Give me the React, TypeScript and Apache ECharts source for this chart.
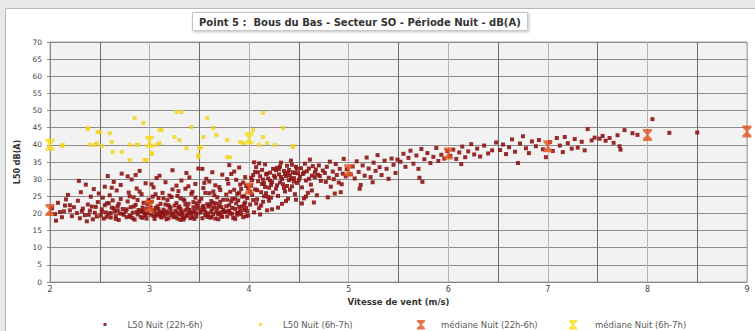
import React, { useEffect, useRef } from "react";
import * as echarts from "echarts";

// L50 nuit (22h-6h) : [vitesse de vent m/s, L50 dB(A)]
const nightPoints: number[][] = [
  [2.02,21.5],[2.05,19.8],[2.08,23.1],[2.1,20.4],[2.12,18.9],[2.15,22.3],[2.18,25.4],[2.2,20.9],[2.22,19.2],[2.24,21.8],[2.06,17.9],[2.16,24.1],
  [2.27,20.1],[2.28,23.7],[2.3,18.6],[2.31,26.2],[2.33,21.4],[2.35,19.5],[2.36,28.4],[2.38,22.6],[2.4,20.8],[2.41,24.9],[2.43,18.3],[2.44,27.1],[2.46,21.9],[2.47,19.1],[2.48,23.3],[2.49,25.8],[2.29,29.5],[2.37,17.7],[2.42,22.0],
  [2.51,19.4],[2.52,21.2],[2.53,24.6],[2.54,18.5],[2.55,27.8],[2.56,20.3],[2.57,22.9],[2.58,30.9],[2.59,19.9],[2.6,25.3],[2.61,18.8],[2.62,21.7],[2.63,23.8],[2.64,29.2],[2.65,20.6],[2.66,19.2],[2.67,26.7],[2.68,22.1],[2.69,18.1],[2.7,20.0],[2.71,24.2],[2.72,31.6],[2.73,21.3],[2.74,19.6],[2.55,22.4],[2.62,27.5],[2.68,20.9],[2.71,28.3],[2.59,23.0],[2.66,18.4],
  [2.76,20.7],[2.77,18.9],[2.78,23.5],[2.79,26.1],[2.8,19.3],[2.81,21.8],[2.82,29.9],[2.83,20.2],[2.84,24.7],[2.85,18.2],[2.86,22.5],[2.87,27.3],[2.88,19.7],[2.89,21.0],[2.9,32.4],[2.91,20.5],[2.92,25.6],[2.93,18.7],[2.94,23.1],[2.95,19.9],[2.96,28.8],[2.97,21.4],[2.98,20.1],[2.99,24.0],[2.78,30.8],[2.81,19.0],[2.84,22.0],[2.87,20.4],[2.9,26.4],[2.93,21.7],[2.96,19.4],[2.8,25.0],[2.86,31.2],[2.92,20.8],[2.98,22.7],
  [3.01,19.6],[3.02,23.4],[3.03,20.9],[3.04,27.6],[3.05,18.4],[3.06,21.6],[3.07,30.3],[3.08,19.8],[3.09,24.5],[3.1,20.3],[3.11,22.8],[3.12,18.8],[3.13,26.0],[3.14,21.1],[3.15,19.2],[3.16,29.1],[3.17,20.6],[3.18,23.9],[3.19,18.6],[3.2,25.2],[3.21,21.5],[3.22,19.5],[3.23,32.6],[3.24,20.0],[3.02,28.5],[3.05,20.7],[3.08,22.1],[3.11,19.1],[3.14,24.4],[3.17,18.3],[3.2,21.9],[3.23,27.0],[3.04,19.3],[3.1,31.0],[3.13,20.4],[3.19,22.4],[3.22,24.8],[3.06,25.6],[3.15,20.2],[3.24,18.9],
  [3.26,20.8],[3.27,23.0],[3.28,18.5],[3.29,26.5],[3.3,19.7],[3.31,21.3],[3.32,29.6],[3.33,20.1],[3.34,24.1],[3.35,18.7],[3.36,22.6],[3.37,31.8],[3.38,19.4],[3.39,27.9],[3.4,21.0],[3.41,20.4],[3.42,25.7],[3.43,18.9],[3.44,23.3],[3.45,20.7],[3.46,28.6],[3.47,19.1],[3.48,22.2],[3.49,33.1],[3.26,19.0],[3.28,25.1],[3.3,22.0],[3.32,20.6],[3.34,18.2],[3.36,27.2],[3.38,21.6],[3.4,30.5],[3.42,19.9],[3.44,20.3],[3.46,24.6],[3.48,21.4],[3.27,28.1],[3.31,18.1],[3.35,23.7],[3.39,20.0],[3.43,26.3],[3.47,22.9],[3.29,21.7],[3.37,19.3],[3.45,18.4],
  [3.51,20.2],[3.52,24.3],[3.53,18.6],[3.54,27.4],[3.55,21.2],[3.56,19.5],[3.57,30.1],[3.58,22.7],[3.59,20.0],[3.6,25.9],[3.61,18.8],[3.62,23.6],[3.63,32.0],[3.64,19.8],[3.65,21.8],[3.66,28.2],[3.67,20.5],[3.68,24.7],[3.69,18.3],[3.7,22.3],[3.71,26.8],[3.72,19.2],[3.73,31.3],[3.74,21.1],[3.52,20.9],[3.54,22.2],[3.56,26.0],[3.58,19.0],[3.6,29.3],[3.62,20.6],[3.64,23.1],[3.66,18.5],[3.68,21.5],[3.7,27.7],[3.72,20.3],[3.74,24.0],[3.53,33.0],[3.57,19.6],[3.61,22.5],[3.65,25.3],[3.69,20.1],[3.73,19.0],[3.55,28.9],[3.63,21.4],[3.71,23.4],
  [3.76,20.4],[3.77,25.5],[3.78,19.1],[3.79,28.7],[3.8,22.4],[3.81,20.0],[3.82,31.5],[3.83,24.2],[3.84,18.7],[3.85,26.9],[3.86,21.3],[3.87,29.8],[3.88,19.6],[3.89,23.8],[3.9,33.4],[3.91,20.8],[3.92,27.1],[3.93,22.0],[3.94,18.9],[3.95,25.0],[3.96,30.6],[3.97,21.6],[3.98,24.5],[3.99,19.4],[3.77,22.1],[3.79,20.6],[3.81,26.3],[3.83,19.9],[3.85,32.2],[3.87,22.9],[3.89,20.2],[3.91,28.4],[3.93,24.9],[3.95,21.0],[3.97,19.2],[3.99,27.3],[3.78,30.0],[3.82,23.5],[3.86,18.4],[3.9,21.9],[3.94,29.0],[3.98,20.7],[3.8,34.1],[3.88,25.7],[3.96,23.2],
  [4.01,22.6],[4.02,28.1],[4.03,25.4],[4.04,31.2],[4.05,20.3],[4.06,27.0],[4.07,33.5],[4.08,24.1],[4.09,29.4],[4.1,21.5],[4.11,30.8],[4.12,26.2],[4.13,32.7],[4.14,23.4],[4.15,28.8],[4.16,34.3],[4.17,25.9],[4.18,20.9],[4.19,30.2],[4.2,27.5],[4.21,31.9],[4.22,24.6],[4.23,29.1],[4.24,33.0],[4.02,30.4],[4.04,23.9],[4.06,32.1],[4.08,26.8],[4.1,34.6],[4.12,22.3],[4.14,29.9],[4.16,27.7],[4.18,31.6],[4.2,23.7],[4.22,28.3],[4.24,26.1],[4.05,34.9],[4.11,19.7],[4.19,24.8],[4.23,21.2],
  [4.26,30.5],[4.27,27.2],[4.28,33.3],[4.29,25.1],[4.3,31.4],[4.31,29.0],[4.32,34.8],[4.33,22.8],[4.34,28.5],[4.35,32.4],[4.36,26.4],[4.37,30.9],[4.38,33.9],[4.39,24.3],[4.4,29.7],[4.41,31.1],[4.42,35.4],[4.43,27.9],[4.44,32.0],[4.45,30.3],[4.46,25.6],[4.47,33.6],[4.48,28.9],[4.49,31.7],[4.27,32.6],[4.29,21.7],[4.31,33.7],[4.33,30.0],[4.35,27.4],[4.37,23.6],[4.39,31.9],[4.41,26.9],[4.43,34.2],[4.45,29.3],[4.47,24.0],
  [4.51,30.7],[4.52,33.2],[4.53,27.6],[4.54,31.5],[4.55,24.4],[4.56,34.5],[4.57,29.6],[4.58,32.3],[4.59,26.0],[4.6,30.1],[4.61,35.7],[4.62,28.4],[4.63,31.0],[4.64,33.8],[4.65,23.2],[4.66,30.6],[4.67,32.8],[4.68,25.3],[4.69,31.3],[4.7,34.0],[4.72,29.5],[4.74,32.5],[4.53,22.9],[4.57,24.9],[4.63,26.7],
  [4.76,31.8],[4.77,29.2],[4.78,33.6],[4.8,30.4],[4.81,35.1],[4.82,27.8],[4.84,32.2],[4.85,30.0],[4.87,34.4],[4.88,31.2],[4.9,29.0],[4.91,33.0],[4.92,26.2],[4.94,31.6],[4.95,35.9],[4.97,30.8],[4.98,32.9],[4.79,24.7],[4.86,25.8],[4.93,28.5],
  [5.02,31.4],[5.04,33.7],[5.06,30.2],[5.08,35.2],[5.1,32.1],[5.12,28.3],[5.14,34.0],[5.16,31.0],[5.18,36.3],[5.2,33.1],[5.22,30.6],[5.25,34.8],[5.27,32.4],[5.29,37.0],[5.31,33.5],[5.33,31.2],[5.36,35.4],[5.38,33.0],[5.4,30.1],[5.43,36.0],[5.45,34.2],[5.47,31.8],[5.49,35.7],[5.11,27.2],[5.24,29.1],
  [5.52,35.1],[5.55,37.4],[5.57,33.6],[5.6,36.2],[5.62,38.3],[5.65,34.5],[5.68,36.9],[5.7,33.0],[5.73,38.8],[5.76,35.8],[5.79,37.6],[5.82,34.7],[5.85,36.5],[5.88,39.1],[5.9,35.3],[5.93,37.1],[5.96,36.0],[5.99,38.2],[5.74,29.2],[5.71,30.4],
  [6.02,36.8],[6.05,38.6],[6.08,35.9],[6.11,37.8],[6.14,39.5],[6.17,36.4],[6.2,38.1],[6.23,40.2],[6.26,37.2],[6.29,38.9],[6.32,36.6],[6.36,39.8],[6.4,37.5],[6.44,38.4],[6.48,40.7],[6.13,34.4],
  [6.52,38.5],[6.55,40.1],[6.58,37.3],[6.61,39.3],[6.64,41.6],[6.67,38.0],[6.7,34.7],[6.72,40.4],[6.75,42.5],[6.78,39.0],[6.81,37.6],[6.84,41.0],[6.88,39.6],[6.91,41.4],[6.95,38.7],[6.98,36.4],
  [7.02,40.8],[7.05,38.2],[7.09,42.0],[7.12,39.8],[7.15,37.9],[7.17,42.3],[7.2,40.5],[7.24,38.9],[7.27,41.7],[7.3,39.2],[7.34,40.9],[7.37,38.4],[7.4,44.6],[7.44,41.3],[7.47,42.1],
  [7.52,41.8],[7.55,42.6],[7.58,41.2],[7.62,42.0],[7.66,40.6],[7.7,42.8],[7.72,39.6],[7.73,38.6],[7.77,44.3],[7.85,43.4],[7.9,42.9],
  [8.05,47.5],[8.22,43.5],[8.5,43.6],
  // relevés supplémentaires dans le nuage dense
  [2.52,20.5],[2.57,19.0],[2.61,20.1],[2.64,21.5],[2.69,22.8],[2.73,19.9],[2.77,21.2],[2.83,18.6],[2.88,23.9],[2.91,19.0],[2.94,20.6],[2.97,18.5],
  [3.01,21.8],[3.03,24.9],[3.07,19.4],[3.09,21.2],[3.12,20.0],[3.16,22.6],[3.18,19.9],[3.21,20.5],[3.25,22.3],[3.28,20.2],[3.31,24.4],[3.33,19.2],
  [3.36,20.9],[3.39,22.8],[3.41,18.6],[3.44,21.8],[3.47,20.0],[3.5,23.5],[3.53,21.7],[3.56,20.4],[3.59,22.0],[3.62,18.9],[3.64,26.4],[3.67,22.9],
  [3.69,19.7],[3.72,21.9],[3.75,20.6],[3.78,24.0],[3.8,20.8],[3.83,21.6],[3.86,24.3],[3.88,20.1],[3.9,26.0],[3.92,19.8],[3.95,22.7],[3.97,28.0],
  [4.01,26.4],[4.03,29.7],[4.07,22.9],[4.09,32.0],[4.13,28.6],[4.15,25.0],[4.17,31.4],[4.21,29.6],[4.25,31.0],[4.28,28.2],[4.3,32.9],[4.32,30.6],
  [4.36,31.5],[4.38,28.0],[4.4,32.7],[4.42,30.1],[4.46,31.8],[4.48,33.0],[4.5,29.8],[4.55,32.0],[4.6,33.1],[4.66,31.9],[4.71,30.9],
  [2.2,22.4],[2.32,20.7],[2.45,20.2],[2.14,20.6],[2.39,19.6],
];

// L50 nuit (6h-7h)
const morningPoints: number[][] = [
  [2.12,39.7],[2.13,40.0],[2.38,44.9],[2.38,44.6],[2.4,40.0],[2.45,40.0],[2.47,40.5],[2.48,43.7],[2.5,43.7],[2.52,39.7],
  [2.6,43.4],[2.62,40.8],[2.63,37.9],[2.72,37.9],[2.8,35.6],[2.8,40.0],[2.85,47.8],[2.87,40.0],[2.88,40.0],[2.94,46.4],
  [2.95,35.6],[2.97,35.6],[3.02,37.6],[3.02,37.3],[3.07,40.0],[3.1,40.5],[3.1,44.3],[3.12,44.3],[3.25,42.3],[3.27,49.6],
  [3.3,41.4],[3.32,49.6],[3.37,39.0],[3.42,45.2],[3.49,37.0],[3.49,36.4],[3.5,39.0],[3.52,39.4],[3.54,42.3],[3.58,47.8],
  [3.64,44.9],[3.67,42.9],[3.78,41.4],[3.78,36.4],[3.81,36.4],[3.91,40.8],[3.94,40.5],[4.04,44.3],[4.1,40.0],[4.14,49.3],
  [4.14,42.3],[4.18,40.5],[4.26,40.0],[4.34,44.9],[4.44,39.4],[4.44,39.7],
];

// Médianes par classe de vitesse
const medianNight: number[][] = [
  [2, 21.0], [3, 22.2], [4, 27.3], [5, 32.6], [6, 37.5], [7, 39.6], [8, 42.9], [9, 43.9],
];
const medianMorning: number[][] = [
  [2, 40.0], [3, 40.9], [4, 41.9],
];

const xTickValues = [2, 3, 4, 5, 6, 7, 8, 9];

const TITLE = "Point 5 :  Bous du Bas - Secteur SO - Période Nuit - dB(A)";
const S_NIGHT = "L50 Nuit (22h-6h)";
const S_MORNING = "L50 Nuit (6h-7h)";
const M_NIGHT = "médiane Nuit (22h-6h)";
const M_MORNING = "médiane Nuit (6h-7h)";

const HOURGLASS = "path://M0,0H10V2.2L6.4,5.3V6.7L10,9.8V12H0V9.8L3.6,6.7V5.3L0,2.2Z";

const FONT = "DejaVu Sans";

export default function App() {
  const ref = useRef<HTMLDivElement>(null);

  useEffect(() => {
    if (!ref.current) return;
    const chart = echarts.init(ref.current, undefined, { renderer: "svg" });

    const legendBase = {
      orient: "horizontal",
      top: 315,
      textStyle: { fontFamily: FONT, fontSize: 8.5, color: "#5a5a5a" },
      selectedMode: false,
    };

    chart.setOption({
      animation: false,
      backgroundColor: "#e9e9e9",
      graphic: [
        {
          type: "rect",
          shape: { x: 5.5, y: 8.5, width: 760, height: 330 },
          style: { fill: "#ffffff", stroke: "#b8b8b8", lineWidth: 1 },
          z: -10,
        },
      ],
      title: {
        text: TITLE,
        left: 192,
        top: 12,
        padding: [5, 7, 4, 7],
        backgroundColor: "#ffffff",
        borderColor: "#c8c8c8",
        borderWidth: 1,
        shadowColor: "rgba(0,0,0,0.25)",
        shadowBlur: 3,
        shadowOffsetX: 1,
        shadowOffsetY: 1,
        textStyle: { fontFamily: FONT, fontSize: 10, fontWeight: "bold", color: "#333" },
      },
      legend: [
        { ...legendBase, left: 98.5, data: [S_NIGHT], itemWidth: 3, itemHeight: 3, textStyle: { ...legendBase.textStyle, padding: [0, 0, 0, 16] } },
        { ...legendBase, left: 254, data: [S_MORNING], itemWidth: 3, itemHeight: 3, textStyle: { ...legendBase.textStyle, padding: [0, 0, 0, 16] } },
        { ...legendBase, left: 412, data: [M_NIGHT], itemWidth: 8, itemHeight: 11, textStyle: { ...legendBase.textStyle, padding: [0, 0, 0, 11] } },
        { ...legendBase, left: 564, data: [M_MORNING], itemWidth: 8, itemHeight: 11, textStyle: { ...legendBase.textStyle, padding: [0, 0, 0, 13] } },
      ],
      grid: {
        left: 50,
        right: 8,
        top: 42,
        bottom: 49,
        show: true,
        backgroundColor: "#f2f2f2",
        borderColor: "#a8a8a8",
        borderWidth: 1,
      },
      xAxis: {
        type: "value",
        min: 2,
        max: 9,
        interval: 0.5,
        name: "Vitesse de vent (m/s)",
        nameLocation: "middle",
        nameGap: 14,
        nameTextStyle: { fontFamily: FONT, fontSize: 8.5, fontWeight: "bold", color: "#333" },
        axisLine: { show: true, lineStyle: { color: "#888" } },
        axisTick: { show: false },
        axisLabel: {
          fontFamily: FONT,
          fontSize: 8,
          color: "#444",
          margin: 3,
          formatter: (v: number) => (xTickValues.includes(v) ? String(v) : ""),
        },
        splitLine: { show: true, lineStyle: { color: ["#b4b4b4", "#6e6e6e"], width: 1 } },
      },
      yAxis: {
        type: "value",
        min: 0,
        max: 70,
        interval: 5,
        name: "L50 dB(A)",
        nameLocation: "middle",
        nameGap: 27,
        nameRotate: 90,
        nameTextStyle: { fontFamily: FONT, fontSize: 8, fontWeight: "bold", color: "#333" },
        axisLine: { show: true, lineStyle: { color: "#888" } },
        axisTick: { show: true, length: 3, lineStyle: { color: "#888" } },
        axisLabel: { fontFamily: FONT, fontSize: 7.5, color: "#444", margin: 8 },
        splitLine: { show: true, lineStyle: { color: "#8c8c8c", width: 1 } },
      },
      series: [
        {
          name: S_MORNING,
          type: "scatter",
          data: morningPoints,
          symbol: "rect",
          symbolSize: 4,
          itemStyle: { color: "#f3d313" },
          z: 2,
        },
        {
          name: S_NIGHT,
          type: "scatter",
          data: nightPoints,
          symbol: "rect",
          symbolSize: 4,
          itemStyle: { color: "#8e1414", opacity: 0.9 },
          z: 3,
        },
        {
          name: M_NIGHT,
          type: "scatter",
          data: medianNight,
          symbol: HOURGLASS,
          symbolSize: [9, 12],
          itemStyle: { color: "#e0541c" },
          z: 5,
        },
        {
          name: M_MORNING,
          type: "scatter",
          data: medianMorning,
          symbol: HOURGLASS,
          symbolSize: [9, 12],
          itemStyle: { color: "#f7dc12" },
          z: 5,
        },
      ],
    });

    return () => chart.dispose();
  }, []);

  return (
    <div
      ref={ref}
      style={{ position: "fixed", left: 0, top: 0, width: 755, height: 331 }}
    />
  );
}
